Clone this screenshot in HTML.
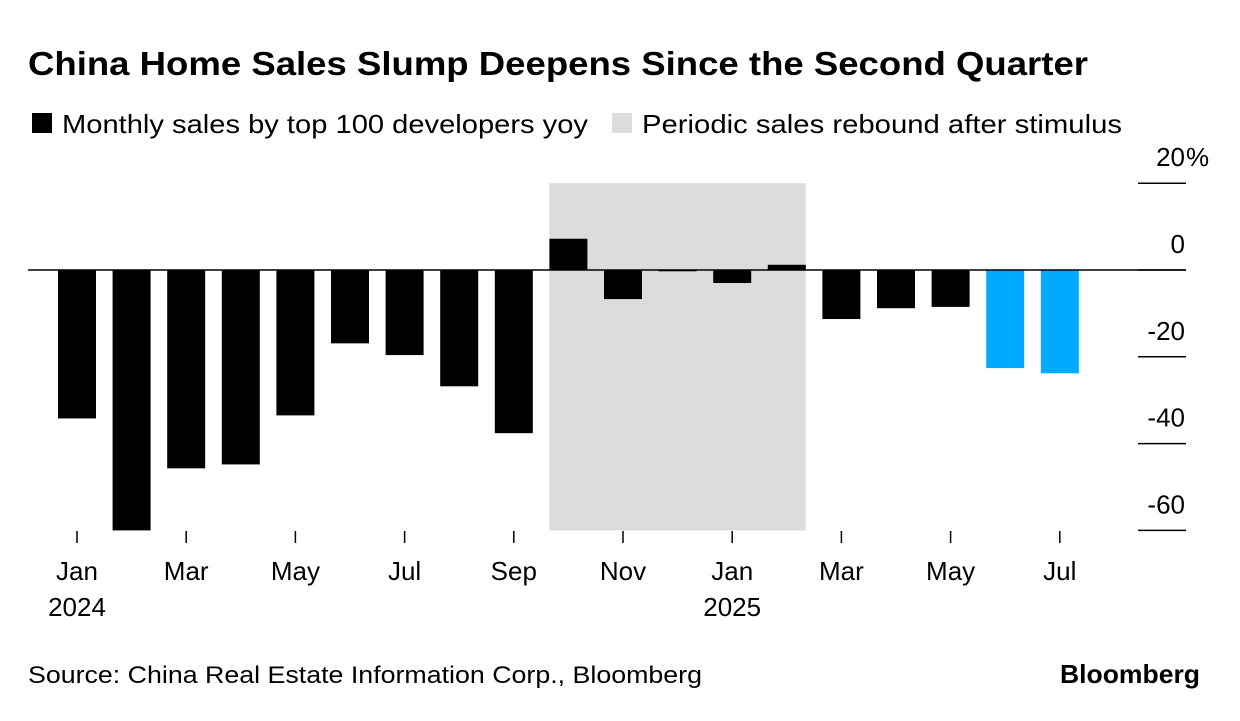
<!DOCTYPE html>
<html><head><meta charset="utf-8"><style>
body{margin:0;background:#fff;font-family:"Liberation Sans",sans-serif;}
svg text{font-family:"Liberation Sans",sans-serif;}
</style></head><body>
<svg id="c" width="1240" height="716">
<text x="28" y="75" font-size="33" font-weight="bold" fill="#000" textLength="1060" lengthAdjust="spacingAndGlyphs">China Home Sales Slump Deepens Since the Second Quarter</text>
<g>
<rect x="32" y="113" width="20" height="20" fill="#000"/>
<text x="62" y="133" font-size="26" textLength="526" lengthAdjust="spacingAndGlyphs">Monthly sales by top 100 developers yoy</text>
<rect x="612" y="113" width="20" height="20" fill="#dcdcdc"/>
<text x="642" y="133" font-size="26" textLength="480" lengthAdjust="spacingAndGlyphs">Periodic sales rebound after stimulus</text>
</g>
<g id="plot"></g>
<text x="28" y="683" font-size="24" textLength="674" lengthAdjust="spacingAndGlyphs">Source: China Real Estate Information Corp., Bloomberg</text>
<text x="1200" y="683" font-size="26" font-weight="bold" text-anchor="end" textLength="140" lengthAdjust="spacingAndGlyphs">Bloomberg</text>
</svg>
<script>
const months=["Jan","Feb","Mar","Apr","May","Jun","Jul","Aug","Sep","Oct","Nov","Dec","Jan","Feb","Mar","Apr","May","Jun","Jul"];
const values=[-34.2,-60,-45.7,-44.8,-33.5,-16.9,-19.6,-26.8,-37.6,7.2,-6.7,-0.3,-3,1.2,-11.3,-8.8,-8.5,-22.6,-23.8];
const highlight=[0,0,0,0,0,0,0,0,0,0,0,0,0,0,0,0,0,1,1];
const yTicks=[20,0,-20,-40,-60];
const yTickNums=["20","0","-20","-40","-60"];
const shadeStart=9, shadeEnd=13;
const xLabels=[[0,"Jan","2024"],[2,"Mar",""],[4,"May",""],[6,"Jul",""],[8,"Sep",""],[10,"Nov",""],[12,"Jan","2025"],[14,"Mar",""],[16,"May",""],[18,"Jul",""]];
const NS="http://www.w3.org/2000/svg";
const g=document.getElementById('plot');
const y=v=>270-v*4.34;
const x=i=>77+i*54.6;
const bw=38;
function mk(t,a){const e=document.createElementNS(NS,t);for(const k in a)e.setAttribute(k,a[k]);g.appendChild(e);return e;}
let s=mk('rect',{x:x(shadeStart)-bw/2,y:y(20),width:x(shadeEnd)-x(shadeStart)+bw,height:y(-60)-y(20),fill:'#dcdcdc'});


yTicks.forEach((t,i)=>{
 let l=mk('line',{x1:1138,x2:1186,y1:y(t),y2:y(t),stroke:'#000','stroke-width':1.5});
 
 
 let tx=mk('text',{x:1185,y:y(t)-17,'font-size':26,'text-anchor':'end'});
 tx.textContent=yTickNums[i];
 
 
 if(i===0){let p=mk('text',{x:1186,y:y(t)-17,'font-size':26});
 p.textContent='%';
 
 }
});
values.forEach((v,i)=>{
 let r=mk('rect',{x:x(i)-bw/2,y:Math.min(y(v),y(0)),width:bw,height:Math.abs(y(v)-y(0)),fill:highlight[i]?'#00aaff':'#000'});
 
 
});
let z=mk('line',{x1:28,x2:1186,y1:y(0),y2:y(0),stroke:'#000','stroke-width':1.5});


xLabels.forEach(([i,m,yr])=>{
 let t=mk('line',{x1:x(i),x2:x(i),y1:531,y2:543,stroke:'#000','stroke-width':1.5});
 
 
 let tx=mk('text',{x:x(i),y:580,'font-size':26,'text-anchor':'middle'});
 tx.textContent=m;
 
 
 if(yr){let ty=mk('text',{x:x(i),y:616,'font-size':26,'text-anchor':'middle'});
 ty.textContent=yr;
 
 }
});
</script>
</body></html>
